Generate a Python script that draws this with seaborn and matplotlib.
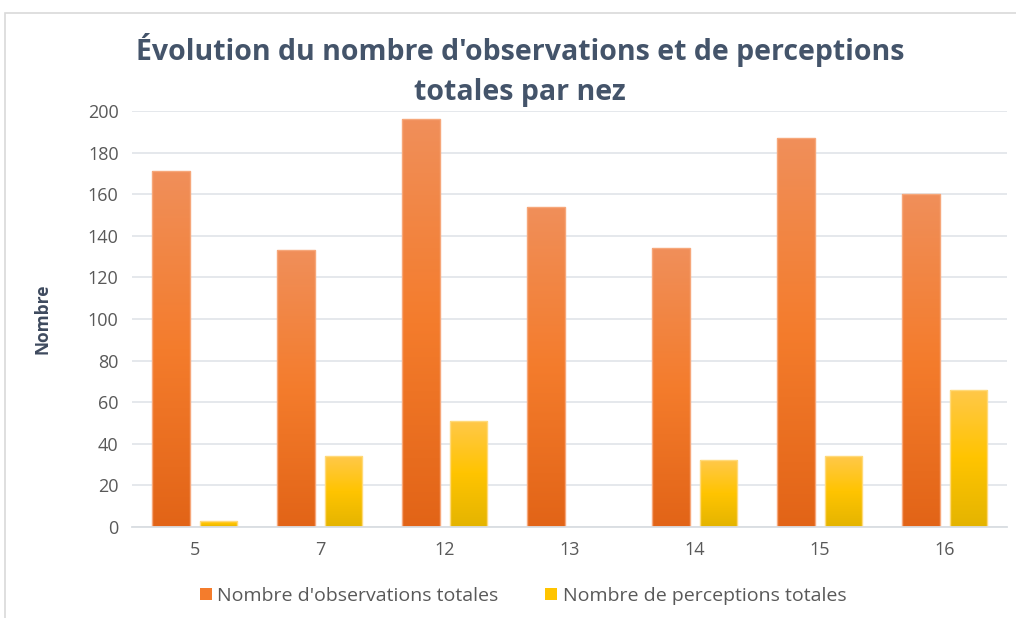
import numpy as np
import pandas as pd
import matplotlib
matplotlib.use("Agg")
import matplotlib.pyplot as plt
from matplotlib.colors import LinearSegmentedColormap
from matplotlib.patches import Patch, Rectangle
import seaborn as sns

# données
nez = ["5", "7", "12", "13", "14", "15", "16"]
observations = [171, 133, 196, 154, 134, 187, 160]
perceptions = [3, 34, 51, 0, 32, 34, 66]
series = ["Nombre d'observations totales", "Nombre de perceptions totales"]

df = pd.DataFrame({
    "nez": nez * 2,
    "valeur": observations + perceptions,
    "serie": [series[0]] * len(nez) + [series[1]] * len(nez),
})

sns.set_theme(style="white")
plt.rcParams["font.family"] = ["Open Sans", "DejaVu Sans"]

palette = {series[0]: "#F07A2A", series[1]: "#FFC000"}
gradients = {
    series[0]: ["#F08F5A", "#F47C2C", "#E26417"],
    series[1]: ["#FFC84A", "#FFC400", "#E4B400"],
}
edges = {series[0]: "#F6A77A", series[1]: "#FFDA7A"}

fig = plt.figure(figsize=(10.16, 6.18), dpi=100)
ax = fig.add_axes([0.1304, 0.1472, 0.8612, 0.6732])

sns.barplot(data=df, x="nez", y="valeur", hue="serie", palette=palette,
            width=0.76, gap=0.21, legend=False, ax=ax, order=nez,
            hue_order=series)

# dégradé façon Excel dans chaque barre
for i, patch in enumerate(ax.patches):
    s = series[i // len(nez)]
    h = patch.get_height()
    if h <= 0:
        patch.set_visible(False)
        continue
    x0 = patch.get_x()
    w = patch.get_width()
    cmap = LinearSegmentedColormap.from_list(s, gradients[s][::-1])
    grad = np.linspace(0, 1, 256).reshape(-1, 1)
    im = ax.imshow(grad, cmap=cmap, aspect="auto", origin="lower",
                   extent=(x0, x0 + w, 0, h), zorder=patch.get_zorder())
    im.set_clip_path(patch)
    patch.set_facecolor("none")
    patch.set_edgecolor(edges[s])
    patch.set_linewidth(1.0)
    patch.set_zorder(patch.get_zorder() + 0.1)

ax.set_xlim(-0.5, len(nez) - 0.5)
ax.set_ylim(0, 200)
ax.set_yticks(range(0, 201, 20))
ax.yaxis.grid(True, color="#E3E6EA", linewidth=1.3)
ax.set_axisbelow(True)
for sp in ["top", "right", "left"]:
    ax.spines[sp].set_visible(False)
ax.spines["bottom"].set_color("#D9DDE2")
ax.spines["bottom"].set_linewidth(1.3)
ax.tick_params(axis="both", length=0, labelsize=13, labelcolor="#595959", pad=10)
ax.set_xlabel("")
ax.set_ylabel("Nombre", fontsize=12.5, fontweight="bold", color="#3E4A5E", labelpad=26)

fig.text(0.512, 0.887, "Évolution du nombre d'observations et de perceptions\ntotales par nez",
         ha="center", va="center", fontsize=20.5, fontweight="bold", color="#44546A",
         linespacing=1.5)

handles = [Patch(facecolor=gradients[s][1], edgecolor="none") for s in series]
fig.legend(handles, series, loc="center", bbox_to_anchor=(0.515, 0.036), ncol=2,
           frameon=False, fontsize=14, labelcolor="#595959",
           handlelength=0.6, handleheight=0.6, handletextpad=0.3, columnspacing=2.4)

# cadre du graphique
fig.patches.append(Rectangle((0.005, -0.01), 1.0, 0.989, transform=fig.transFigure,
                             fill=False, edgecolor="#D9D9D9", linewidth=1.2))

fig.savefig("out.png", dpi=100, facecolor="white")
